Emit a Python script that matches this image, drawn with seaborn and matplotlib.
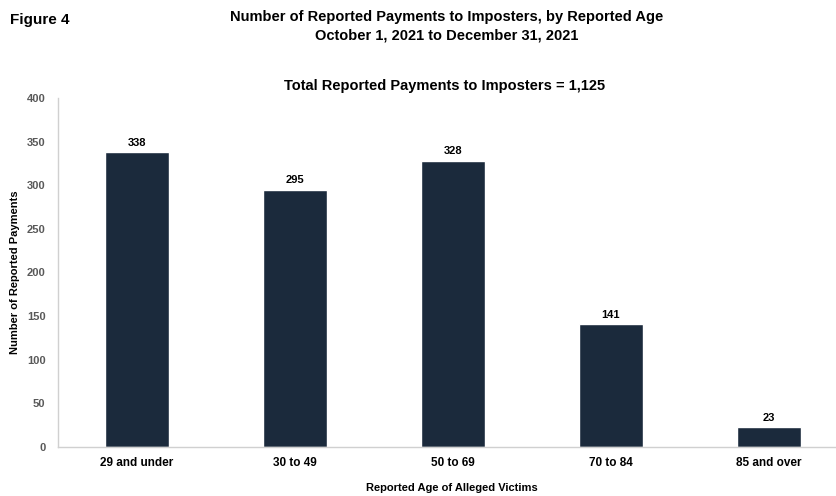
import matplotlib
matplotlib.use("Agg")
import matplotlib.pyplot as plt
import seaborn as sns
import pandas as pd

age_groups = ["29 and under", "30 to 49", "50 to 69", "70 to 84", "85 and over"]
payments = [338, 295, 328, 141, 23]
y_ticks = [0, 50, 100, 150, 200, 250, 300, 350, 400]

sns.set_theme(style="white")
plt.rcParams["font.family"] = ["Liberation Sans", "DejaVu Sans"]
plt.rcParams["text.color"] = "black"
plt.rcParams["axes.labelcolor"] = "black"

df = pd.DataFrame({"age": age_groups, "count": payments})

fig = plt.figure(figsize=(8.37, 4.96), dpi=100)
ax = fig.add_axes([58 / 837, 49 / 496, 777 / 837, 349 / 496])

sns.barplot(data=df, x="age", y="count", color="#1b2a3c", width=0.405,
            saturation=1, ax=ax)

for i, v in enumerate(payments):
    ax.text(i, v + 5, f"{v}", ha="center", va="bottom", fontsize=8,
            fontweight="bold", color="black")

ax.set_xlim(-0.5, 4.42)
ax.set_ylim(0, 400)
ax.set_yticks(y_ticks)
ax.tick_params(axis="y", labelsize=8, colors="#595959", length=3, width=0.6,
               color="#bfbfbf", pad=6)
ax.tick_params(axis="x", labelsize=8.5, length=0, pad=7)
for lbl in ax.get_yticklabels():
    lbl.set_fontweight("bold")
for lbl in ax.get_xticklabels():
    lbl.set_fontweight("bold")
    lbl.set_color("black")

for side in ["top", "right"]:
    ax.spines[side].set_visible(False)
for side in ["left", "bottom"]:
    ax.spines[side].set_color("#d0d0d0")
    ax.spines[side].set_linewidth(1.0)

ax.set_xlabel("")
ax.set_ylabel("Number of Reported Payments", fontsize=8, fontweight="bold",
              labelpad=5)
fig.text(452 / 837, 1 - 488 / 496, "Reported Age of Alleged Victims",
         fontsize=8, fontweight="bold", ha="center", va="center")

fig.text(10 / 837, 1 - 20 / 496, "Figure 4", fontsize=11, fontweight="bold",
         va="center", ha="left")
fig.text(447 / 837, 1 - 17 / 496,
         "Number of Reported Payments to Imposters, by Reported Age",
         fontsize=10.5, fontweight="bold", ha="center", va="center")
fig.text(447 / 837, 1 - 35 / 496, "October 1, 2021 to December 31, 2021",
         fontsize=10.5, fontweight="bold", ha="center", va="center")
fig.text(445 / 837, 1 - 86 / 496, "Total Reported Payments to Imposters = 1,125",
         fontsize=10.5, fontweight="bold", ha="center", va="center")

fig.savefig("out.png", dpi=100)
